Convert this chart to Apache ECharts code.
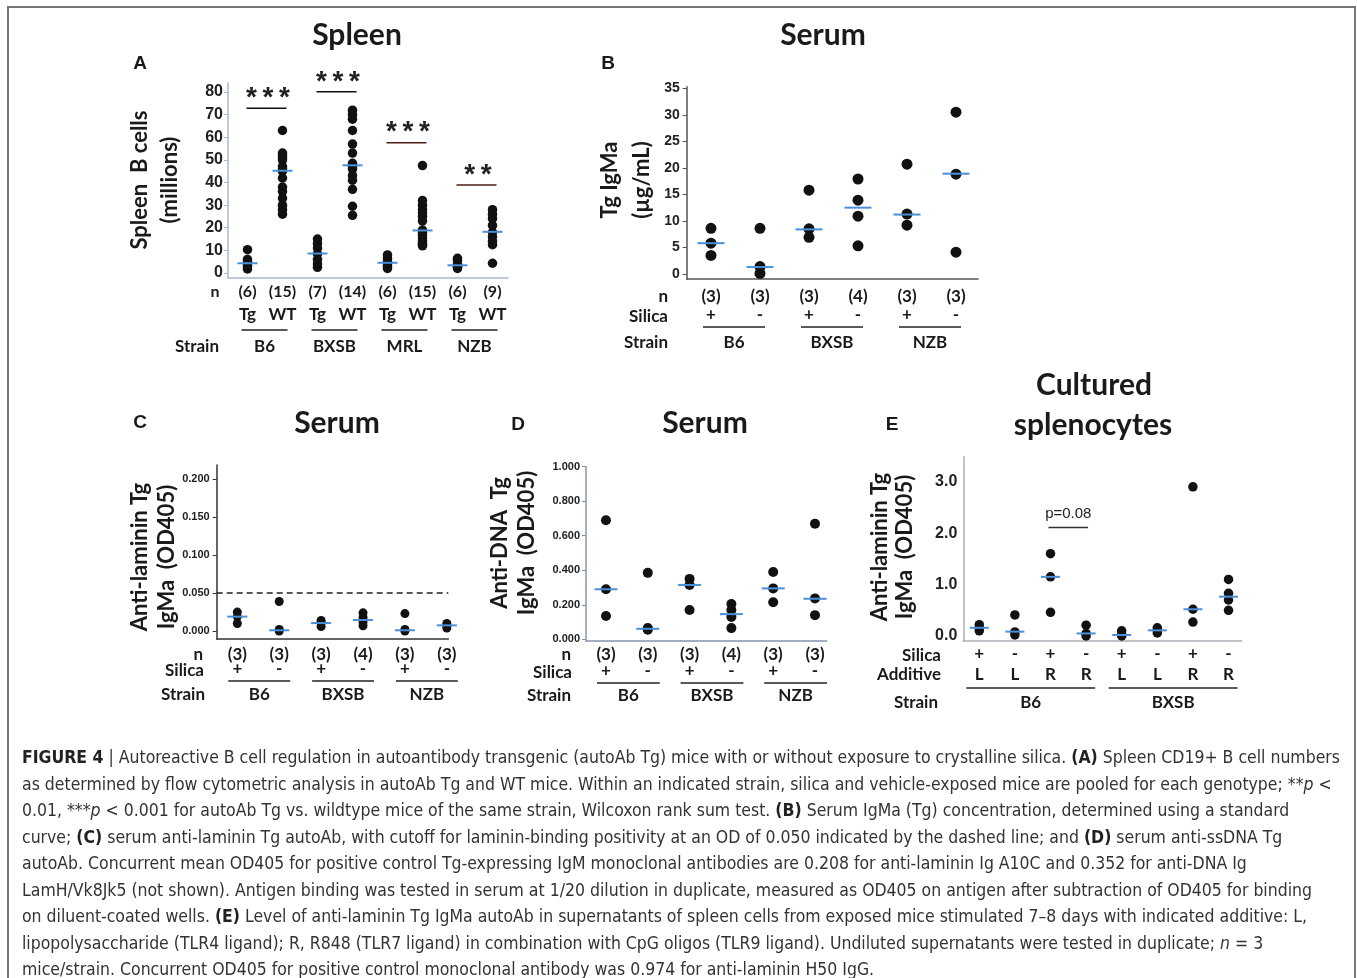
<!DOCTYPE html>
<html>
<head>
<meta charset="utf-8">
<script src="https://cdn.jsdelivr.net/npm/echarts@6/dist/echarts.min.js"></script>
<style>
html, body { margin:0; padding:0; background:#fff; }
#main { position:absolute; left:0; top:0; width:1357px; height:978px; }
#frame { position:absolute; left:7px; top:6px; width:1349px; height:972px; border:2px solid #777; border-bottom:none; box-sizing:border-box; pointer-events:none; }
.cl { position:absolute; left:22px; white-space:nowrap; font-family:'Liberation Sans Narrow','DejaVu Sans Condensed','Liberation Sans',sans-serif; font-size:18px; line-height:20px; color:#333; transform-origin:0 50%; }
.cl b { color:#222; }
</style>
</head>
<body>
<div id="main"></div>
<div id="frame"></div>
<div id="caption">
<div class="cl" style="top:747px"><b>FIGURE 4</b> | Autoreactive B cell regulation in autoantibody transgenic (autoAb Tg) mice with or without exposure to crystalline silica. <b>(A)</b> Spleen CD19+ B cell numbers</div>
<div class="cl" style="top:774px">as determined by flow cytometric analysis in autoAb Tg and WT mice. Within an indicated strain, silica and vehicle-exposed mice are pooled for each genotype; **<i>p</i> &lt;</div>
<div class="cl" style="top:800px">0.01, ***<i>p</i> &lt; 0.001 for autoAb Tg vs. wildtype mice of the same strain, Wilcoxon rank sum test. <b>(B)</b> Serum IgMa (Tg) concentration, determined using a standard</div>
<div class="cl" style="top:827px">curve; <b>(C)</b> serum anti-laminin Tg autoAb, with cutoff for laminin-binding positivity at an OD of 0.050 indicated by the dashed line; and <b>(D)</b> serum anti-ssDNA Tg</div>
<div class="cl" style="top:853px">autoAb. Concurrent mean OD405 for positive control Tg-expressing IgM monoclonal antibodies are 0.208 for anti-laminin Ig A10C and 0.352 for anti-DNA Ig</div>
<div class="cl" style="top:880px">LamH/Vk8Jk5 (not shown). Antigen binding was tested in serum at 1/20 dilution in duplicate, measured as OD405 on antigen after subtraction of OD405 for binding</div>
<div class="cl" style="top:906px">on diluent-coated wells. <b>(E)</b> Level of anti-laminin Tg IgMa autoAb in supernatants of spleen cells from exposed mice stimulated 7–8 days with indicated additive: L,</div>
<div class="cl" style="top:933px">lipopolysaccharide (TLR4 ligand); R, R848 (TLR7 ligand) in combination with CpG oligos (TLR9 ligand). Undiluted supernatants were tested in duplicate; <i>n</i> = 3</div>
<div class="cl" style="top:959px">mice/strain. Concurrent OD405 for positive control monoclonal antibody was 0.974 for anti-laminin H50 IgG.</div>
</div>

<script>
// ---- panel A : spleen B cells (millions)
var genoA = ['Tg','WT','Tg','WT','Tg','WT','Tg','WT'];
var nA = ['(6)','(15)','(7)','(14)','(6)','(15)','(6)','(9)'];
var strainA = ['B6','BXSB','MRL','NZB'];
var ticksA = [0,10,20,30,40,50,60,70,80];
var cellsA = [
  [10.3, 6, 5, 4, 3, 1.8],
  [63, 53, 52, 51, 50, 47, 46, 45, 42, 38, 36, 33, 30, 28, 26],
  [15, 13, 11, 8.5, 6, 4, 2.5],
  [72, 70, 68, 63, 57, 53, 48.5, 47, 46, 43, 41, 37, 29.5, 25.5],
  [8, 6.5, 5, 4, 3, 2],
  [47.5, 32, 30, 28, 26.5, 25, 23, 19, 18, 17, 15.5, 14, 13, 12.5, 12],
  [6.5, 5.5, 4, 3, 2.5, 2],
  [28, 26, 24, 21, 18, 16, 14, 12.5, 4.3]
];
var medA = [4.3, 45.2, 8.6, 47.6, 4.5, 18.8, 3.4, 18.2];
var starsA = ['*\u2009*\u2009*','*\u2009*\u2009*','*\u2009*\u2009*','*\u2009*'];
var starLevelA = [72.8, 80.1, 57.6, 38.9];

// ---- panel B : serum Tg IgMa (ug/mL)
var silicaB = ['+','-','+','-','+','-'];
var nB = ['(3)','(3)','(3)','(4)','(3)','(3)'];
var strainB = ['B6','BXSB','NZB'];
var ticksB = [0,5,10,15,20,25,30,35];
var igmaB = [[8.6,5.8,3.5],[8.6,1.4,0.1],[15.8,8.5,6.9],[17.9,13.9,10.9,5.3],[20.7,11.3,9.2],[30.5,18.8,4.1]];
var medB = [5.8, 1.3, 8.4, 12.5, 11.2, 18.9];

// ---- panel C : serum anti-laminin Tg IgMa (OD405)
var ticksC = [0, 0.05, 0.1, 0.15, 0.2];
var lamC = [[0.025,0.019,0.010],[0.039,0.002,0.0],[0.014,0.011,0.006],[0.024,0.018,0.012,0.007],[0.023,0.002,0.0],[0.010,0.007,0.004]];
var medC = [0.019, 0.001, 0.0105, 0.0145, 0.001, 0.0075];
var cutoffC = 0.05;

// ---- panel D : serum anti-DNA Tg IgMa (OD405)
var ticksD = [0, 0.2, 0.4, 0.6, 0.8, 1.0];
var dnaD = [[0.69,0.29,0.135],[0.385,0.065,0.055],[0.35,0.315,0.17],[0.205,0.17,0.13,0.065],[0.39,0.295,0.215],[0.67,0.237,0.14]];
var medD = [0.29, 0.061, 0.315, 0.146, 0.295, 0.235];

// ---- panel E : cultured splenocytes anti-laminin Tg IgMa (OD405)
var silicaE = ['+','-','+','-','+','-','+','-'];
var addE = ['L','L','R','R','L','L','R','R'];
var strainE = ['B6','BXSB'];
var ticksE = [0, 1, 2, 3];
var lamE = [[0.22,0.16,0.1],[0.41,0.08,0.02],[1.6,1.15,0.46],[0.21,0.05,0.0],[0.1,0.03,0.0],[0.16,0.11,0.06],[2.9,0.52,0.27],[1.1,0.83,0.7,0.5]];
var medE = [0.16, 0.085, 1.15, 0.05, 0.02, 0.11, 0.52, 0.765];
var pTextE = 'p=0.08';
var pLevelE = 2.11;

var LF = 'Lato, "Open Sans", sans-serif';
var AF = '"Liberation Sans", Arial, sans-serif';

var chart = echarts.init(document.getElementById('main'));

var grids = [
  {left:228, top:83, width:280, height:194.5},
  {left:686.7, top:86.7, width:291.3, height:192.3},
  {left:216.7, top:465, width:231.6, height:174},
  {left:586, top:466.7, width:240.7, height:174},
  {left:963.3, top:456.7, width:278.4, height:184.3}
];
var xr = [[-0.557,7.443],[-0.496,5.449],[-0.492,5.035],[-0.478,5.28],[-0.449,7.37]];
var yr = [[-2,84],[-0.95,35.3],[-0.0105,0.2189],[-0.008,1.0],[-0.097,3.486]];
var axisCol = ['#a9b9cc','#555','#333','#8494aa','#aab0b6'];
var yTicks = [ticksA, ticksB, ticksC, ticksD, ticksE];
var yDec = [0,0,3,3,1];
var labSize = [16,14,11,11,16];
var labMargin = [5,7,7,6,6];
var tickLen = [4,4,4,4,0];
var dotSize = [9.5,11,9,10,9.5];
var medW = [20,27,20,23,19];
var values = [cellsA, igmaB, lamC, dnaD, lamE];
var meds = [medA, medB, medC, medD, medE];

var xAxes = [], yAxes = [], series = [];
grids.forEach(function(g, i){
  xAxes.push({gridIndex:i, type:'value', min:xr[i][0], max:xr[i][1], position:'bottom',
    axisLine:{onZero:false, lineStyle:{color:axisCol[i], width:1.5}},
    axisTick:{show:false}, axisLabel:{show:false}, splitLine:{show:false}});
  yAxes.push({gridIndex:i, type:'value', min:yr[i][0], max:yr[i][1], position:'left',
    axisLine:{show:true, onZero:false, lineStyle:{color:axisCol[i], width:1.5}},
    axisTick:{show:tickLen[i]>0, length:tickLen[i], customValues:yTicks[i], lineStyle:{color:axisCol[i]}},
    axisLabel:{customValues:yTicks[i], margin:labMargin[i], color:'#222', fontWeight:'bold', fontFamily:AF, fontSize:labSize[i],
      formatter:(function(d){ return function(v){ return Number(v).toFixed(d); }; })(yDec[i])},
    splitLine:{show:false}});
  var pts = [];
  values[i].forEach(function(vs, c){ vs.forEach(function(v){ pts.push([c, v]); }); });
  var dots = {type:'scatter', xAxisIndex:i, yAxisIndex:i, data:pts, symbolSize:dotSize[i],
    itemStyle:{color:'#111', opacity:1}, silent:true, z:2};
  if (i === 2) {
    dots.markLine = {silent:true, symbol:['none','none'], label:{show:false},
      lineStyle:{color:'#222', type:[6,4], width:1.5}, data:[{yAxis:cutoffC}]};
  }
  series.push(dots);
  series.push({type:'scatter', xAxisIndex:i, yAxisIndex:i, silent:true, z:3,
    data:meds[i].map(function(m, c){ return [c, m]; }),
    symbol:'rect', symbolSize:[medW[i], 2], itemStyle:{color:'#4a8fd9', opacity:1}});
});

chart.setOption({animation:false, grid:grids, xAxis:xAxes, yAxis:yAxes, series:series});

// ---- text, rows and annotations placed through the axes
function P(g, x, y){ return chart.convertToPixel({gridIndex:g}, [x, y]); }
function T(x, y, s, size, o){
  o = o || {};
  return {type:'text', x:x, y:y, rotation:o.rot || 0, silent:true, z:10,
    style:{text:s, fill:o.color || '#1a1a1a', align:o.align || 'center', verticalAlign:'middle',
      font:(o.weight || 'bold') + ' ' + size + 'px ' + (o.family || LF)}};
}
function L(x1, y1, x2, y2, col, w, dash){
  return {type:'line', silent:true, z:10, shape:{x1:x1, y1:y1, x2:x2, y2:y2},
    style:{stroke:col || '#222', lineWidth:w || 1.5, lineDash:dash || null}};
}
var G = [];
function row(g, labels, y, size){
  labels.forEach(function(s, c){ G.push(T(P(g, c, 0)[0], y, s, size)); });
}
function groups(g, names, per, yl, yt, pad0, pad1, size){
  names.forEach(function(s, k){
    var a = P(g, k*per, 0)[0] + pad0, b = P(g, k*per + per - 1, 0)[0] + pad1;
    G.push(L(a, yl, b, yl, '#222', 1.5));
    G.push(T((a + b)/2, yt, s, size));
  });
}

// titles and panel letters
G.push(T(357, 35, 'Spleen', 30));
G.push(T(823, 35, 'Serum', 30));
G.push(T(337, 423, 'Serum', 30));
G.push(T(705, 423, 'Serum', 30));
G.push(T(1094, 385, 'Cultured', 30));
G.push(T(1093, 425, 'splenocytes', 30));
G.push(T(140, 64, 'A', 19, {family:AF}));
G.push(T(608, 64, 'B', 19, {family:AF}));
G.push(T(140, 423, 'C', 19, {family:AF}));
G.push(T(518, 425, 'D', 19, {family:AF}));
G.push(T(892, 425, 'E', 19, {family:AF}));

// y axis names
var R = Math.PI/2;
G.push(T(140, 180, 'Spleen  B cells', 22, {rot:R}));
G.push(T(170, 180, '(millions)', 22, {rot:R}));
G.push(T(610, 180, 'Tg IgMa', 22, {rot:R}));
G.push(T(642, 180, '(\u00b5g/mL)', 22, {rot:R}));
G.push(T(140, 557, 'Anti-laminin Tg', 22, {rot:R}));
G.push(T(167, 557, 'IgMa  (OD405)', 22, {rot:R}));
G.push(T(500, 543, 'Anti-DNA  Tg', 22, {rot:R}));
G.push(T(527, 543, 'IgMa  (OD405)', 22, {rot:R}));
G.push(T(880, 547, 'Anti-laminin Tg', 22, {rot:R}));
G.push(T(905, 547, 'IgMa  (OD405)', 22, {rot:R}));

// panel A rows
G.push(T(215, 292, 'n', 16));
row(0, nA, 292, 16);
row(0, genoA, 315, 17);
groups(0, strainA, 2, 330, 347, -6, 5, 17);
G.push(T(197, 347, 'Strain', 17));
// significance
strainA.forEach(function(s, k){
  var a = P(0, 2*k, starLevelA[k]), b = P(0, 2*k + 1, starLevelA[k]);
  var col = k < 2 ? '#111' : '#4a1c12';
  G.push(L(a[0] - 1, a[1], b[0] + 4, a[1], col, 1.5));
  G.push(T((a[0] + b[0])/2 + 3, a[1] - 10, starsA[k], 28, {family:AF, color:'#222'}));
});

// panel B rows
G.push(T(668, 297, 'n', 17, {align:'right'}));
row(1, nB, 297, 17);
G.push(T(668, 317, 'Silica', 17, {align:'right'}));
row(1, silicaB, 315, 17);
groups(1, strainB, 2, 327, 343, -8, 5, 17);
G.push(T(668, 343, 'Strain', 17, {align:'right'}));

// panel C rows
G.push(T(203, 655, 'n', 17, {align:'right'}));
row(2, nB, 655, 17);
G.push(T(204, 671, 'Silica', 17, {align:'right'}));
row(2, silicaB, 669, 17);
groups(2, strainB, 2, 681, 695, -9, 11, 17);
G.push(T(205, 695, 'Strain', 17, {align:'right'}));

// panel D rows
G.push(T(571, 655, 'n', 17, {align:'right'}));
row(3, nB, 655, 17);
G.push(T(572, 673, 'Silica', 17, {align:'right'}));
row(3, silicaB, 671, 17);
groups(3, strainB, 2, 683, 696, -9, 12, 17);
G.push(T(571, 696, 'Strain', 17, {align:'right'}));

// panel E rows
G.push(T(941, 656, 'Silica', 17, {align:'right'}));
row(4, silicaE, 654, 17);
G.push(T(941, 675, 'Additive', 17, {align:'right'}));
row(4, addE, 675, 17);
groups(4, strainE, 4, 688, 703, -13, 9, 17);
G.push(T(938, 703, 'Strain', 17, {align:'right'}));
var pa = P(4, 2, pLevelE), pb = P(4, 3, pLevelE);
G.push(L(pa[0] - 2, pa[1], pb[0] + 2, pa[1], '#333', 1.3));
G.push(T((pa[0] + pb[0])/2, pa[1] - 14, pTextE, 15, {family:AF, weight:'normal', color:'#222'}));

chart.setOption({graphic:G});

// caption lines: one common horizontal scale so the first line spans the box
var lines = document.querySelectorAll('.cl');
var w0 = lines[0].getBoundingClientRect().width;
var sx = 1318 / w0;
lines.forEach(function(el){ el.style.transform = 'scaleX(' + sx + ')'; });
</script>
</body>
</html>
